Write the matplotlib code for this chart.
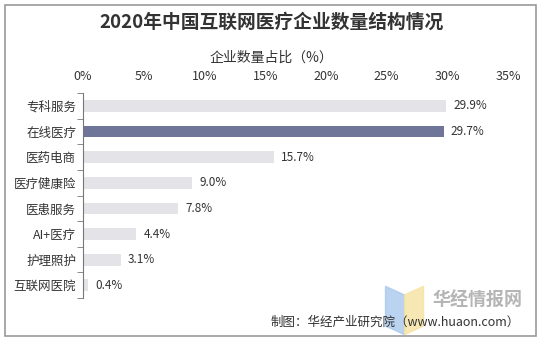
import matplotlib
matplotlib.use("Agg")
import matplotlib.pyplot as plt
from matplotlib.patches import Rectangle, Polygon
import numpy as np

plt.rcParams['font.family'] = ['Noto Sans CJK SC', 'DejaVu Sans']

# data: share of internet-healthcare companies by segment (%)
categories = ['专科服务', '在线医疗', '医药电商', '医疗健康险', '医患服务', 'AI+医疗', '护理照护', '互联网医院']
shares = [29.9, 29.7, 15.7, 9.0, 7.8, 4.4, 3.1, 0.4]
highlight = '在线医疗'
xticks = [0, 5, 10, 15, 20, 25, 30, 35]

fig = plt.figure(figsize=(5.43, 3.45), dpi=100)
ax = fig.add_axes([0.153, 0.136, 0.7825, 0.594])

y = np.arange(len(categories))
colors = ['#6e7599' if c == highlight else '#e3e3e8' for c in categories]
ax.barh(y, shares, height=0.46, color=colors)
for yi, v in zip(y, shares):
    ax.text(v + 0.6, yi, f'{v:.1f}%', va='center', ha='left', fontsize=8.5, color='#333333')

ax.set_xlim(0, 35)
ax.set_ylim(len(categories) - 0.5, -0.5)
ax.xaxis.tick_top()
ax.set_xticks(xticks)
ax.set_xticklabels([f'{t}%' for t in xticks], fontsize=9, color='#333333')
ax.tick_params(axis='x', length=0, pad=7)
ax.set_yticks(y)
ax.set_yticklabels(categories, fontsize=9, color='#333333')
ax.tick_params(axis='y', which='major', length=0, pad=5)
ax.set_yticks(np.arange(-0.5, len(categories)), minor=True)
ax.tick_params(axis='y', which='minor', length=4, color='#777777')
for s in ['top', 'right', 'bottom']:
    ax.spines[s].set_visible(False)
ax.spines['left'].set_color('#777777')

fig.text(0.5, 0.935, '2020年中国互联网医疗企业数量结构情况', ha='center', va='center',
         fontsize=13.5, fontweight='bold', color='#333333')
fig.text(0.5, 0.832, '企业数量占比（%）', ha='center', va='center', fontsize=10, color='#333333')
fig.text(0.957, 0.066, '制图：华经产业研究院（www.huaon.com）', ha='right', va='center',
         fontsize=9, color='#333333')

# logo in lower right corner
fig.text(0.962, 0.13, '华经情报网', ha='right', va='center', fontsize=13,
         fontweight='bold', color='#b5b5b5')
fig.patches.append(Polygon([[0.71, 0.17], [0.745, 0.145], [0.745, 0.03], [0.71, 0.055]],
                           closed=True, transform=fig.transFigure, color='#a9c8ee', alpha=0.8))
fig.patches.append(Polygon([[0.745, 0.145], [0.78, 0.17], [0.78, 0.055], [0.745, 0.03]],
                           closed=True, transform=fig.transFigure, color='#f5e3a0', alpha=0.8))

# outer frame
fig.patches.append(Rectangle((0.01, 0.025), 0.978, 0.96, transform=fig.transFigure,
                             fill=False, edgecolor='#9a9a9a', linewidth=1.2))

fig.savefig('out.png', dpi=100)
